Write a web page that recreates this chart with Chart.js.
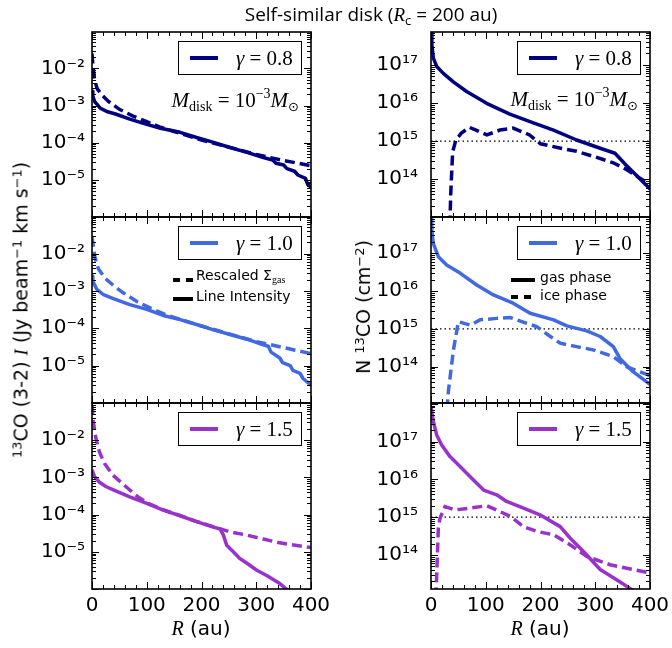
<!DOCTYPE html>
<html>
<head>
<meta charset="utf-8">
<script src="https://cdn.jsdelivr.net/npm/chart.js@4.4.1/dist/chart.umd.min.js"></script>
<style>
  body { margin: 0; background: #fff; }
  #wrap { position: relative; width: 672px; height: 648px; overflow: hidden; }
  #wrap canvas { position: absolute; left: 0; top: 0; }
  .txt { position: absolute; white-space: nowrap; color: #000; font-family: "DejaVu Sans"; transform: translate(-50%, -50%); }
  .rot { transform: translate(-50%, -50%) rotate(-90deg); }
  .sup { font-size: 0.68em; position: relative; top: -0.5em; }
  .sub { font-size: 0.68em; position: relative; top: 0.3em; }
  .m { font-family: "Liberation Serif"; font-style: italic; }
</style>
</head>
<body>
<div id="wrap">
  <canvas id="p0" width="672" height="648"></canvas>
  <canvas id="p1" width="672" height="648"></canvas>
  <canvas id="p2" width="672" height="648"></canvas>
  <canvas id="p3" width="672" height="648"></canvas>
  <canvas id="p4" width="672" height="648"></canvas>
  <canvas id="p5" width="672" height="648"></canvas>

  <div class="txt" style="left:371px; top:14px; font-family:'Open Sans'; font-size:19px;">Self-similar disk (<span class="m">R</span><span class="sub">c</span> = 200 au)</div>
  <div class="txt rot" style="left:21px; top:310px; font-size:19px;"><span class="sup">13</span>CO (3-2) <span class="m">I</span> (Jy beam<span class="sup">−1</span> km s<span class="sup">−1</span>)</div>
  <div class="txt rot" style="left:363px; top:307px; font-size:19px;">N <span class="sup">13</span>CO (cm<span class="sup">−2</span>)</div>
  <div class="txt" style="left:201px; top:628px; font-size:20px;"><span class="m">R</span> (au)</div>
  <div class="txt" style="left:540px; top:628px; font-size:20px;"><span class="m">R</span> (au)</div>
</div>

<script>
// ---- data: line intensity (solid) and rescaled Sigma_gas (dashed), left column
const rInt08 = [0, 1.5, 5, 8.5, 15, 27, 43, 69, 94, 125, 161, 191, 222, 252, 283, 313, 330, 336, 350, 356, 370, 376, 390, 394, 400];
const iInt08 = [2.4e-3, 1.8e-3, 1.26e-3, 1.1e-3, 8.5e-4, 6.9e-4, 5.9e-4, 4.3e-4, 3.3e-4, 2.45e-4, 1.9e-4, 1.38e-4, 1.02e-4, 7.4e-5, 5.5e-5, 4.0e-5, 3.4e-5, 2.8e-5, 2.5e-5, 2.0e-5, 1.7e-5, 1.35e-5, 1.1e-5, 7.5e-6, 6.3e-6];
const rSig08 = [0, 2, 5, 10, 20, 30, 50, 75, 100, 125, 150, 200, 250, 300, 350, 400];
const sSig08 = [2.5e-2, 1.05e-2, 4.6e-3, 2.75e-3, 1.8e-3, 1.29e-3, 7.9e-4, 5.2e-4, 3.7e-4, 2.6e-4, 2.0e-4, 1.17e-4, 7.6e-5, 4.8e-5, 3.3e-5, 2.4e-5];

const rInt10 = [0, 1.5, 8.5, 21, 39, 69, 100, 130, 161, 191, 222, 252, 283, 313, 322, 327, 343, 348, 362, 367, 380, 385, 400];
const iInt10 = [2.5e-3, 1.8e-3, 1.12e-3, 7.9e-4, 6.2e-4, 4.3e-4, 3.2e-4, 2.2e-4, 1.7e-4, 1.26e-4, 9.1e-5, 6.8e-5, 5.1e-5, 3.6e-5, 3.3e-5, 2.3e-5, 1.6e-5, 1.2e-5, 1.0e-5, 7.5e-6, 6.2e-6, 4.6e-6, 3.0e-6];
const rSig10 = [0, 5.5, 11.6, 23.7, 39, 57, 82, 106, 130, 160, 200, 250, 300, 343, 400];
const sSig10 = [2.8e-2, 7.8e-3, 3.9e-3, 2.2e-3, 1.4e-3, 8.9e-4, 5.2e-4, 3.5e-4, 2.45e-4, 1.74e-4, 1.15e-4, 7.1e-5, 4.4e-5, 3.2e-5, 2.1e-5];

const rInt15 = [0, 4.6, 13.7, 26, 39, 69, 100, 130, 161, 191, 222, 234, 240, 246, 258, 270, 283, 301, 319, 343, 355, 370];
const iInt15 = [1.6e-3, 1.05e-3, 7.4e-4, 5.6e-4, 4.6e-4, 3.0e-4, 2.0e-4, 1.32e-4, 9.3e-5, 6.5e-5, 4.6e-5, 4.1e-5, 2.8e-5, 1.5e-5, 1.0e-5, 6.6e-6, 4.9e-6, 3.2e-6, 2.3e-6, 1.4e-6, 1.0e-6, 7e-7];
const rSig15 = [0, 2.4, 7.3, 13.4, 22.6, 38, 53, 69, 84, 100, 130, 160, 190, 222, 250, 283, 313, 343, 400];
const sSig15 = [8.9e-2, 3.2e-2, 1.1e-2, 4.9e-3, 2.4e-3, 1.15e-3, 7.4e-4, 4.6e-4, 3.0e-4, 2.1e-4, 1.35e-4, 9.5e-5, 6.6e-5, 4.7e-5, 3.5e-5, 2.8e-5, 2.2e-5, 1.74e-5, 1.3e-5];

// ---- data: 13CO column density, gas phase (solid) and ice phase (dashed), right column
const rGas08 = [0, 1.5, 4.3, 10.4, 22.5, 40.8, 65, 101.6, 144, 187, 223.7, 266, 309, 336, 357, 381, 400];
const nGas08 = [8e17, 3.5e17, 1.5e17, 9.1e16, 6.0e16, 3.6e16, 2.0e16, 9.8e15, 5.1e15, 3.0e15, 1.95e15, 1.07e15, 6.5e14, 4.8e14, 2.3e14, 1.05e14, 5.5e13];
const rIce08 = [33, 36, 39.5, 45.5, 55, 70, 80, 102, 126, 150, 180, 200, 235, 266, 296, 333, 357, 381, 400];
const nIce08 = [1e12, 4e13, 5.2e14, 1.07e15, 1.6e15, 2.3e15, 2.0e15, 1.45e15, 1.95e15, 2.2e15, 1.45e15, 8.5e14, 6.6e14, 5.4e14, 4.0e14, 2.7e14, 1.8e14, 1.07e14, 7.5e13];

const rGas10 = [0, 1.5, 4.3, 13.4, 28.6, 53, 83.5, 114, 150, 181, 224, 248, 284.5, 309, 333, 345, 369, 400];
const nGas10 = [8e17, 4e17, 1.8e17, 8.1e16, 4.9e16, 3.0e16, 1.45e16, 7.9e15, 4.8e15, 2.6e15, 1.74e15, 1.2e15, 8.9e14, 6.3e14, 3.4e14, 1.66e14, 7.4e13, 3.4e13];
const rIce10 = [27, 32, 41, 50, 72, 90, 120, 145, 175, 193, 218, 236, 266, 296, 333, 357, 400];
const nIce10 = [3e12, 2.4e13, 2.8e14, 1.55e15, 1.26e15, 1.74e15, 1.9e15, 2.0e15, 1.4e15, 1.15e15, 6.3e14, 4.2e14, 3.4e14, 2.8e14, 1.86e14, 1.0e14, 5.8e13];

const rGas15 = [0, 4.3, 10.4, 19.5, 34.7, 53, 71.6, 96, 120, 138, 169, 199, 236, 254, 278.5, 309, 339, 367, 400];
const nGas15 = [8.5e17, 3.4e17, 1.5e17, 8.1e16, 4.0e16, 2.2e16, 1.17e16, 5.2e15, 3.9e15, 2.6e15, 1.74e15, 1.15e15, 5.6e14, 2.8e14, 1.23e14, 4.1e13, 2.2e13, 1.2e13, 5e12];
const rIce15 = [8, 10, 13.4, 16.4, 25.6, 43.8, 71.6, 102, 126, 145, 169, 193, 224, 254, 284.5, 327, 400];
const nIce15 = [3e12, 2e13, 5.1e14, 9.3e14, 1.9e15, 1.55e15, 1.74e15, 2.0e15, 1.4e15, 1.05e15, 5.6e14, 4.2e14, 3.4e14, 1.86e14, 9.1e13, 5.5e13, 3.3e13];

const rThresh = [0, 400];
const nThresh = [1e15, 1e15];

const gammas = ['0.8', '1.0', '1.5'];
const colors = ['#000080', '#4169e1', '#9932cc'];
const intTicks = [1e-5, 1e-4, 1e-3, 1e-2];
const colTicks = [1e14, 1e15, 1e16, 1e17];

// ---- layout
const colL = [92, 431], colR = [311, 650];
const rowT = [32, 217, 403], rowB = [217, 403, 589];
const labelPad = [7, 13];
const YW = 60, XH = 34;
const SERIF = '"Liberation Serif"';

const SUP = {'-': '⁻', '0': '⁰', '1': '¹', '2': '²', '3': '³', '4': '⁴', '5': '⁵', '6': '⁶', '7': '⁷', '8': '⁸', '9': '⁹'};
function powLabel(v) {
  const e = Math.round(Math.log10(v));
  return '10' + String(e).split('').map(c => SUP[c]).join('');
}

function pts(r, v) {
  return r.map((x, i) => ({x: x, y: v[i]}));
}

function drawRich(ctx, x, y, parts, align) {
  ctx.textBaseline = 'alphabetic';
  ctx.textAlign = 'left';
  if (align === 'right') {
    let w = 0;
    parts.forEach(p => { ctx.font = p.f; w += ctx.measureText(p.t).width; });
    x -= w;
  }
  parts.forEach(p => {
    ctx.font = p.f;
    ctx.fillText(p.t, x, y + (p.dy || 0));
    x += ctx.measureText(p.t).width;
  });
}

const decoPlugin = {
  id: 'deco',
  afterDraw(chart, args, opts) {
    const {ctx, chartArea: a, scales: {x, y}} = chart;
    ctx.save();
    ctx.strokeStyle = '#000';
    ctx.lineWidth = 1;
    const seg = (x1, y1, x2, y2) => { ctx.beginPath(); ctx.moveTo(x1, y1); ctx.lineTo(x2, y2); ctx.stroke(); };
    // inward ticks, all four sides
    for (let r = 0; r <= 400; r += 20) {
      const px = Math.round(x.getPixelForValue(r)) + 0.5;
      const len = r % 100 === 0 ? 7 : 4;
      seg(px, a.top, px, a.top + len);
      seg(px, a.bottom, px, a.bottom - len);
    }
    const lo = Math.floor(Math.log10(y.min)), hi = Math.ceil(Math.log10(y.max));
    for (let e = lo; e <= hi; e++) {
      for (let m = 1; m < 10; m++) {
        const v = m * Math.pow(10, e);
        if (v < y.min || v > y.max) continue;
        const py = Math.round(y.getPixelForValue(v)) + 0.5;
        const len = m === 1 ? 7 : 4;
        seg(a.left, py, a.left + len, py);
        seg(a.right, py, a.right - len, py);
      }
    }
    ctx.lineWidth = 1.6;
    ctx.strokeRect(a.left, a.top, a.right - a.left, a.bottom - a.top);

    // legend box
    const bw = 123, bh = 33;
    const bx = a.right - 10 - bw, by = a.top + 9;
    ctx.fillStyle = '#fff';
    ctx.fillRect(bx, by, bw, bh);
    ctx.lineWidth = 1;
    ctx.strokeRect(bx + 0.5, by + 0.5, bw, bh);
    ctx.strokeStyle = opts.color;
    ctx.lineWidth = 4;
    seg(bx + 12, by + bh / 2 + 0.5, bx + 40, by + bh / 2 + 0.5);
    ctx.fillStyle = '#000';
    drawRich(ctx, bx + 58, by + bh / 2 + 7, [
      {t: 'γ', f: `italic 21px ${SERIF}`},
      {t: ' = ' + opts.gamma, f: `21px ${SERIF}`}
    ]);

    // extra legend samples
    (opts.samples || []).forEach(s => {
      ctx.strokeStyle = '#000';
      ctx.lineWidth = 4;
      ctx.setLineDash(s.dash || []);
      seg(s.x1, s.y, s.x2, s.y);
      ctx.setLineDash([]);
    });
    ctx.fillStyle = '#000';
    (opts.notes || []).forEach(n => drawRich(ctx, n.x, n.y, n.parts, n.align));
    ctx.restore();
  }
};

const mdisk = [
  {t: 'M', f: `italic 21px ${SERIF}`},
  {t: 'disk', f: `14px ${SERIF}`, dy: 4},
  {t: ' = 10', f: `21px ${SERIF}`},
  {t: '−3', f: `14px ${SERIF}`, dy: -9},
  {t: 'M', f: `italic 21px ${SERIF}`},
  {t: '⊙', f: '13px "DejaVu Sans"', dy: 4}
];
const SANS14 = '14px "DejaVu Sans"';

function panel(id, col, row, datasets, yMin, yMax, yTicks, deco) {
  new Chart(document.getElementById(id), {
    type: 'line',
    data: {datasets: datasets},
    options: {
      responsive: false,
      animation: false,
      events: [],
      layout: {padding: {left: colL[col] - YW, right: 672 - colR[col], top: rowT[row], bottom: 648 - rowB[row] - XH}},
      plugins: {legend: {display: false}, tooltip: {enabled: false}, deco: deco},
      scales: {
        x: {
          type: 'linear', min: 0, max: 400,
          grid: {display: false, drawTicks: false}, border: {display: false},
          ticks: {display: row === 2, stepSize: 100, color: '#000', font: {family: 'DejaVu Sans', size: 20}, padding: 5, maxRotation: 0},
          afterFit(s) { s.height = XH; s.paddingLeft = 0; s.paddingRight = 0; }
        },
        y: {
          type: 'logarithmic', min: yMin, max: yMax,
          grid: {display: false, drawTicks: false}, border: {display: false},
          afterBuildTicks(s) { s.ticks = yTicks.map(v => ({value: v})); },
          ticks: {color: '#000', font: {family: 'DejaVu Sans', size: 20}, padding: labelPad[col], autoSkip: false, callback: v => powLabel(v)},
          afterFit(s) { s.width = YW; s.paddingTop = 0; s.paddingBottom = 0; }
        }
      }
    },
    plugins: [decoPlugin]
  });
}

function leftSets(i, rI, vI, rS, vS) {
  return [
    {data: pts(rI, vI), borderColor: colors[i], borderWidth: 3.5, pointRadius: 0, clip: 0, borderJoinStyle: 'round'},
    {data: pts(rS, vS), borderColor: colors[i], borderWidth: 3.5, borderDash: [10, 5], pointRadius: 0, clip: 0}
  ];
}
function rightSets(i, rG, vG, rI, vI) {
  return [
    {data: pts(rG, vG), borderColor: colors[i], borderWidth: 3.5, pointRadius: 0, clip: 0, borderJoinStyle: 'round'},
    {data: pts(rI, vI), borderColor: colors[i], borderWidth: 3.5, borderDash: [10, 5], pointRadius: 0, clip: 0},
    {data: pts(rThresh, nThresh), borderColor: '#000', borderWidth: 1.3, borderDash: [1.5, 3], pointRadius: 0, clip: 0}
  ];
}

panel('p0', 0, 0, leftSets(0, rInt08, iInt08, rSig08, sSig08), 1e-6, 0.095, intTicks,
  {color: colors[0], gamma: gammas[0], notes: [{x: 299, y: 107, align: 'right', parts: mdisk}]});
panel('p1', 0, 1, leftSets(1, rInt10, iInt10, rSig10, sSig10), 1e-6, 0.095, intTicks,
  {color: colors[1], gamma: gammas[1],
   samples: [{x1: 173, x2: 193, y: 280, dash: [7, 6]}, {x1: 173, x2: 193, y: 299}],
   notes: [
     {x: 196, y: 280, parts: [{t: 'Rescaled Σ', f: SANS14}, {t: 'gas', f: `10px ${SERIF}`, dy: 3}]},
     {x: 196, y: 301, parts: [{t: 'Line Intensity', f: SANS14}]}
   ]});
panel('p2', 0, 2, leftSets(2, rInt15, iInt15, rSig15, sSig15), 1e-6, 0.1, intTicks,
  {color: colors[2], gamma: gammas[2]});

panel('p3', 1, 0, rightSets(0, rGas08, nGas08, rIce08, nIce08), 1.02e13, 7.3e17, colTicks,
  {color: colors[0], gamma: gammas[0], notes: [{x: 638, y: 106, align: 'right', parts: mdisk}]});
panel('p4', 1, 1, rightSets(1, rGas10, nGas10, rIce10, nIce10), 1.1e13, 9.1e17, colTicks,
  {color: colors[1], gamma: gammas[1],
   samples: [{x1: 511, x2: 535, y: 280}, {x1: 511, x2: 535, y: 297, dash: [7, 6]}],
   notes: [
     {x: 540, y: 282, parts: [{t: 'gas phase', f: SANS14}]},
     {x: 540, y: 300, parts: [{t: 'ice phase', f: SANS14}]}
   ]});
panel('p5', 1, 2, rightSets(2, rGas15, nGas15, rIce15, nIce15), 1.25e13, 1.05e18, colTicks,
  {color: colors[2], gamma: gammas[2]});
</script>
</body>
</html>
